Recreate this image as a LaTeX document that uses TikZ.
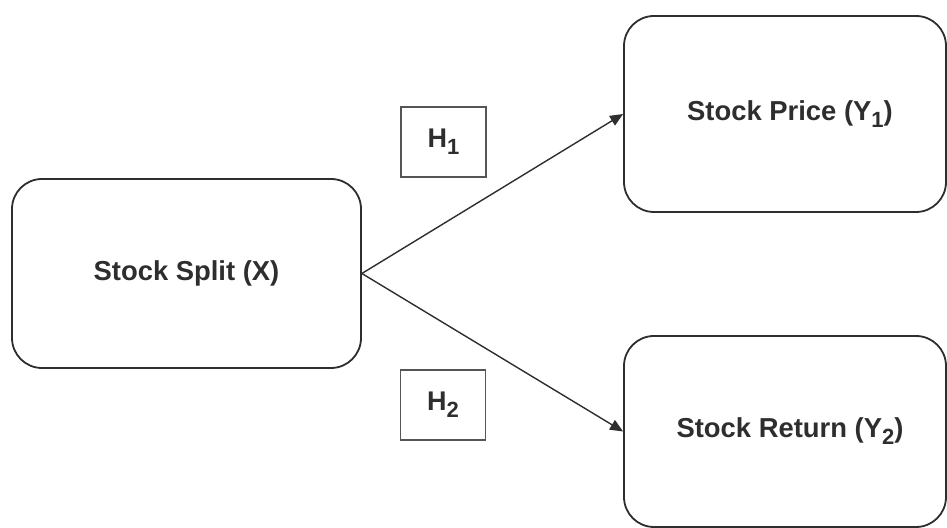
\documentclass[tikz,border=0pt]{standalone}
\usepackage{fontspec}
\setmainfont{Liberation Sans}
\usetikzlibrary{arrows.meta}
\definecolor{ink}{HTML}{2E2E2E}
\definecolor{hline}{HTML}{555555}
\newcommand{\sbs}[1]{\raisebox{-3.5pt}{\fontsize{11pt}{12pt}\selectfont #1}}
\begin{document}
\begin{tikzpicture}[x=0.5pt,y=-0.5pt,
  varbox/.style={draw=ink, line width=0.9pt, rounded corners=15pt, fill=white,
    text=ink, font=\fontsize{13.7pt}{16pt}\selectfont\bfseries, inner sep=0pt},
  hbox/.style={draw=hline, line width=0.8pt, text=ink,
    font=\fontsize{13.5pt}{15pt}\selectfont\bfseries, inner sep=0pt,
    minimum width=42.5pt, minimum height=35pt},
  link/.style={draw=ink, line width=0.7pt, -{Triangle[length=6.5pt,width=5.5pt]}}]
\useasboundingbox (0,0) rectangle (947,528);
\node[varbox, minimum width=174.5pt, minimum height=94.5pt] (x) at (186.5,273.5) {Stock Split (X)};
\node[varbox, minimum width=161pt, minimum height=98pt] (y1) at (785,114) {\hspace*{5pt}Stock Price (Y\sbs{1})};
\node[varbox, minimum width=161pt, minimum height=95.5pt] (y2) at (785,431.5) {\hspace*{5pt}Stock Return (Y\sbs{2})};
\node[hbox] (h1) at (443.5,142) {H\sbs{1}};
\node[hbox] (h2) at (443,405) {H\sbs{2}};
\draw[link] (x.east) -- (y1.west);
\draw[link] (x.east) -- (y2.west);
\end{tikzpicture}
\end{document}
